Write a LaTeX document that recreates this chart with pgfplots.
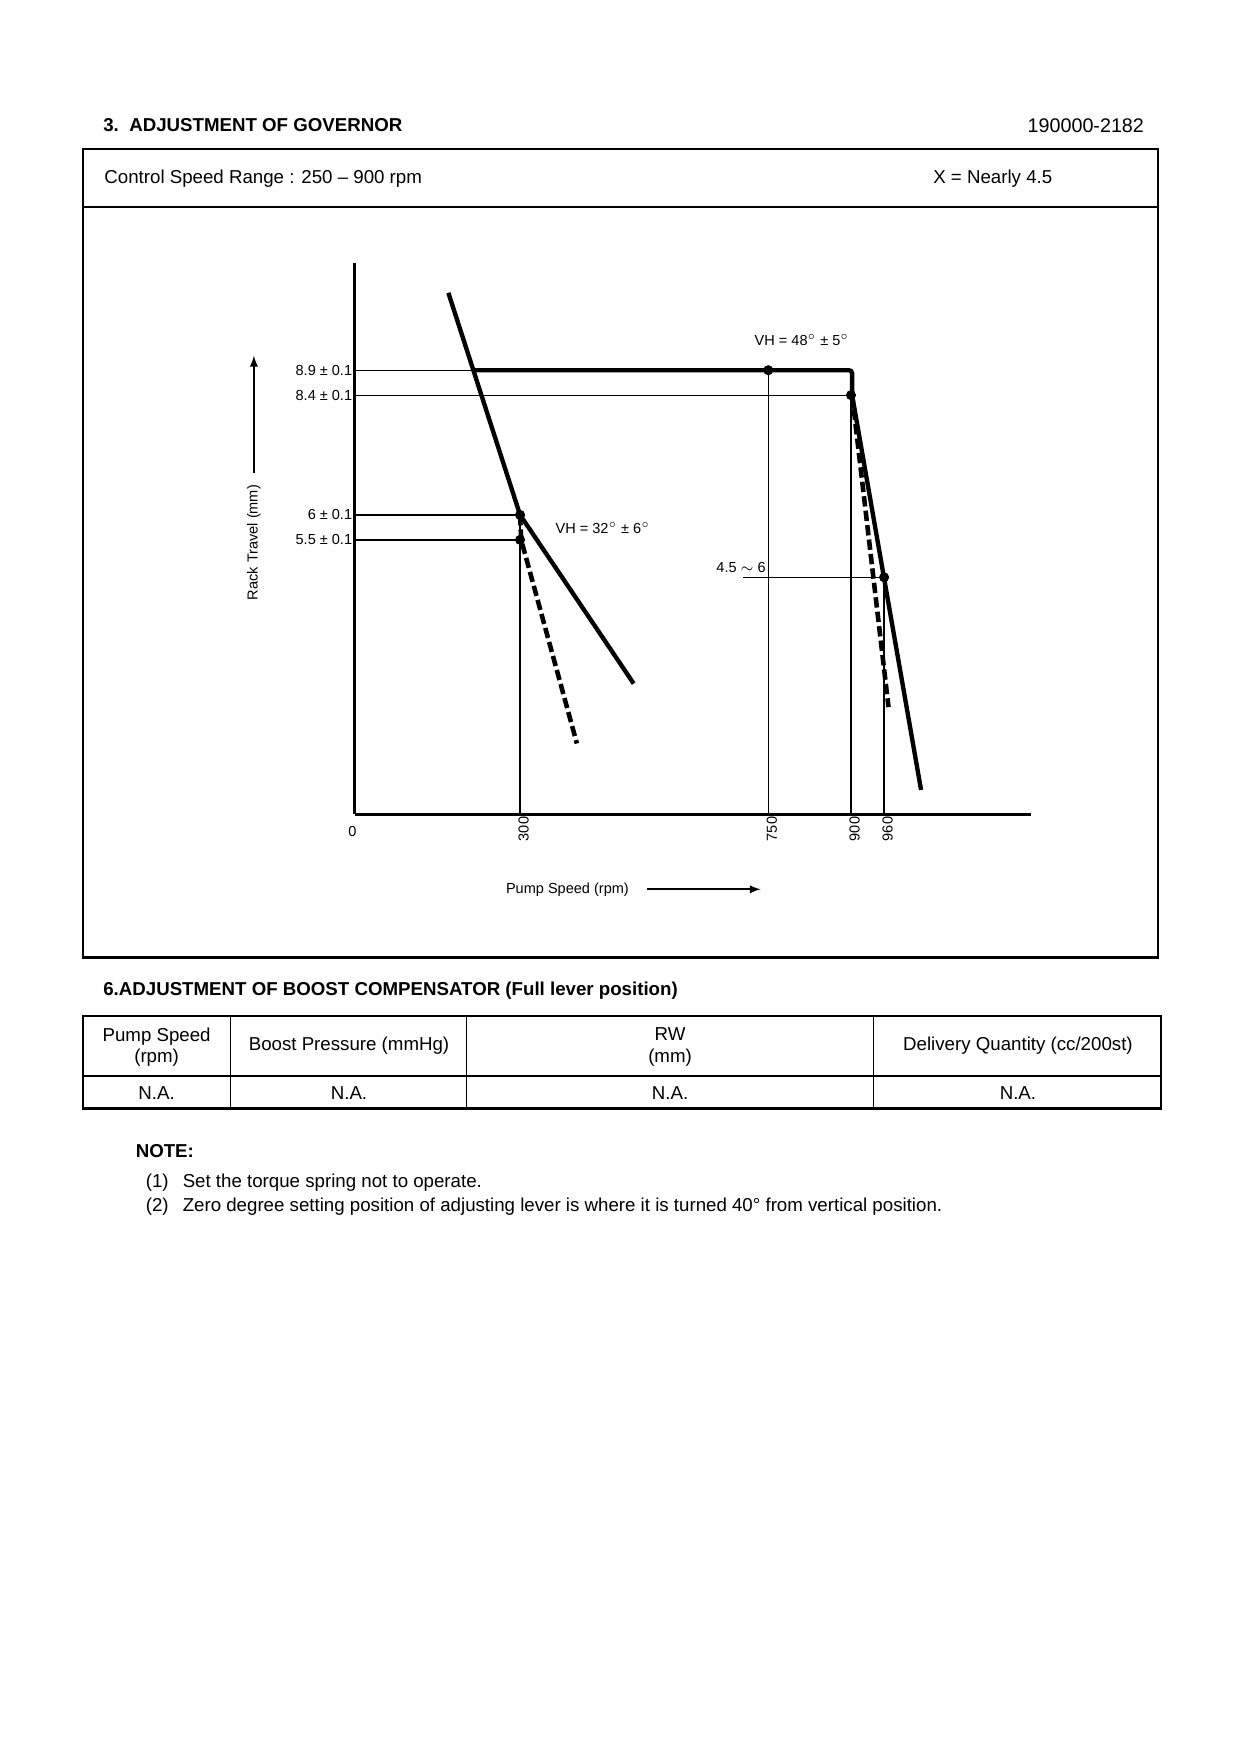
\documentclass[border=0pt]{standalone}
\usepackage{pgfplots}
\pgfplotsset{compat=1.18}
\usepackage{fontspec}
\setmainfont{Liberation Sans}
\newcommand{\fnine}{\fontsize{9}{10.2}\selectfont}
\newcommand{\fsmall}{\fontsize{7}{8}\selectfont}
\begin{document}
\begin{tikzpicture}[x=0.18936mm,y=-0.18936mm]
\path[fill=white] (0,0) rectangle (1109,1568);
\coordinate (O) at (317,728);
% ---------- header ----------
\node[anchor=west,font=\fnine\bfseries,inner sep=0] at (92,112) {3.\ \ ADJUSTMENT OF GOVERNOR};
\node[anchor=east,font=\fontsize{9.5}{11}\selectfont,inner sep=0] at (1023,112) {190000-2182};
\draw[line width=1.1pt] (74,133) rectangle (1035,856);
\draw[line width=1.1pt] (74,185) -- (1035,185);
\node[anchor=west,font=\fnine,inner sep=0] at (93,160) {Control Speed Range : 250 -- 900 rpm};
\node[anchor=west,font=\fnine,inner sep=0] at (834,160) {X = Nearly 4.5};
% ---------- axis decorations ----------
\node[rotate=90,font=\fsmall,inner sep=0] at (227,485) {Rack Travel (mm)};
\draw[line width=0.8pt,-latex] (227,423) -- (227,318);
\node[anchor=west,font=\fsmall,inner sep=0] at (452,795) {Pump Speed (rpm)};
\draw[line width=0.8pt,-latex] (578,795) -- (680,795);
% ---------- chart ----------
\begin{axis}[at={(O)}, anchor=origin, scale only axis,
  width=114.56mm, height=93.35mm,
  xmin=0, xmax=1227, ymin=0, ymax=11.05,
  axis lines=left, axis line style={line width=1.6pt,-},
  xtick={300,750,900,960}, xticklabels={300,750,900,960},
  ytick=\empty, major tick length=0pt,
  xticklabel style={rotate=90, anchor=east, font=\fsmall, inner sep=1pt, yshift=-0.6mm},
  clip=false]
% thin reference lines
\addplot[black, line width=0.6pt] coordinates {(0,8.9) (215,8.9)};
\addplot[black, line width=0.6pt] coordinates {(0,8.4) (900,8.4)};
\addplot[black, line width=0.6pt] coordinates {(0,6.0) (300,6.0)};
\addplot[black, line width=0.6pt] coordinates {(0,5.5) (300,5.5)};
\addplot[black, line width=0.6pt] coordinates {(705,4.75) (968,4.75)};
\addplot[black, line width=0.6pt] coordinates {(300,0) (300,6.0)};
\addplot[black, line width=0.6pt] coordinates {(750,0) (750,8.9)};
\addplot[black, line width=0.6pt] coordinates {(900,0) (900,8.4)};
\addplot[black, line width=0.6pt] coordinates {(960,0) (960,4.75)};
% full-load line and high speed governing
\addplot[black, line width=2.1pt, rounded corners=1.5pt] coordinates {(215,8.9) (902,8.9) (902,8.4) (1027,0.49)};
\addplot[black, line width=2.2pt, dash pattern=on 5pt off 2pt] coordinates {(902,8.4) (968,2.15)};
% low speed governing
\addplot[black, line width=2.1pt] coordinates {(170,10.45) (300,6.0) (506,2.62)};
\addplot[black, line width=2.2pt, dash pattern=on 5pt off 2pt] coordinates {(300,6.0) (302,5.5) (403,1.42)};
% set points
\addplot[only marks, mark=*, mark size=2.2pt, black] coordinates {(300,6.0) (300,5.5) (750,8.9) (900,8.4) (960,4.75)};
% labels
\node[font=\fsmall,anchor=east,inner sep=1pt] at (axis cs:0,8.9) {8.9 ± 0.1};
\node[font=\fsmall,anchor=east,inner sep=1pt] at (axis cs:0,8.4) {8.4 ± 0.1};
\node[font=\fsmall,anchor=east,inner sep=1pt] at (axis cs:0,6.0) {6 ± 0.1};
\node[font=\fsmall,anchor=east,inner sep=1pt] at (axis cs:0,5.5) {5.5 ± 0.1};
\node[font=\fsmall,anchor=north,inner sep=0] at (axis cs:-4,0) [yshift=-2mm] {0};
\node[font=\fsmall,inner sep=0] at (axis cs:811,9.5) {VH = 48$^{\circ}$ ± 5$^{\circ}$};
\node[font=\fsmall,inner sep=0] at (axis cs:450,5.74) {VH = 32$^{\circ}$ ± 6$^{\circ}$};
\node[font=\fsmall,anchor=south east,inner sep=1pt] at (axis cs:750,4.8) {4.5 $\sim$ 6};
\end{axis}
% ---------- boost compensator table ----------
\node[anchor=west,font=\fnine\bfseries,inner sep=0] at (92,886) {6.ADJUSTMENT OF BOOST COMPENSATOR (Full lever position)};
\draw[line width=1.1pt] (74,908) rectangle (1038,991);
\draw[line width=0.8pt] (74,962) -- (1038,962);
\draw[line width=0.8pt] (206,908) -- (206,991);
\draw[line width=0.8pt] (417,908) -- (417,991);
\draw[line width=0.8pt] (781,908) -- (781,991);
\node[align=center,font=\fnine,inner sep=0] at (140,936) {Pump Speed\\(rpm)};
\node[font=\fnine,inner sep=0] at (312,935) {Boost Pressure (mmHg)};
\node[align=center,font=\fnine,inner sep=0] at (599,936) {RW\\(mm)};
\node[font=\fnine,inner sep=0] at (910,935) {Delivery Quantity (cc/200st)};
\node[font=\fnine,inner sep=0] at (140,977) {N.A.};
\node[font=\fnine,inner sep=0] at (312,977) {N.A.};
\node[font=\fnine,inner sep=0] at (599,977) {N.A.};
\node[font=\fnine,inner sep=0] at (910,977) {N.A.};
% ---------- notes ----------
\node[anchor=west,font=\fnine\bfseries,inner sep=0] at (121,1029) {NOTE:};
\node[anchor=west,font=\fnine,inner sep=0] at (130,1057) {(1)};
\node[anchor=west,font=\fnine,inner sep=0] at (163,1057) {Set the torque spring not to operate.};
\node[anchor=west,font=\fnine,inner sep=0] at (130,1079) {(2)};
\node[anchor=west,font=\fnine,inner sep=0] at (163,1079) {Zero degree setting position of adjusting lever is where it is turned 40° from vertical position.};
\end{tikzpicture}
\end{document}
